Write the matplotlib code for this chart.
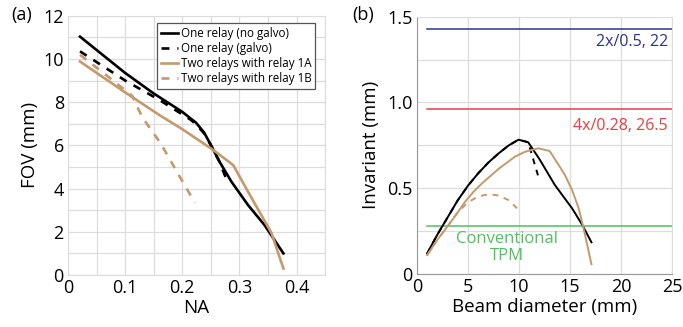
import matplotlib
matplotlib.use('Agg')
import matplotlib.pyplot as plt
from matplotlib.ticker import MultipleLocator

plt.rcParams['font.family'] = ['Open Sans', 'DejaVu Sans']

# panel (a): FOV vs NA
na_one = [0.021, 0.06, 0.1, 0.15, 0.2, 0.224, 0.238, 0.250, 0.265, 0.286, 0.315, 0.344, 0.377]
fov_one = [11.03, 10.2, 9.35, 8.4, 7.55, 7.05, 6.6, 6.02, 5.25, 4.32, 3.24, 2.31, 1.0]
na_one_galvo = [0.021, 0.1, 0.16, 0.215, 0.225, 0.24, 0.25, 0.265, 0.28]
fov_one_galvo = [10.35, 9.0, 8.1, 7.18, 6.95, 6.5, 6.0, 5.25, 4.24]
na_two_1a = [0.021, 0.1, 0.16, 0.2, 0.25, 0.262, 0.289, 0.315, 0.356, 0.377]
fov_two_1a = [9.88, 8.45, 7.4, 6.75, 5.86, 5.63, 5.09, 3.86, 1.95, 0.3]
na_two_1b = [0.021, 0.074, 0.112, 0.13, 0.162, 0.19, 0.222]
fov_two_1b = [10.19, 9.1, 8.3, 7.3, 6.1, 4.8, 3.35]

# panel (b): invariant vs beam diameter
d_one = [1.0, 2.0, 3.0, 4.0, 5.0, 6.0, 7.0, 8.0, 9.0, 9.95, 10.9, 12.0, 13.5, 15.2, 16.2, 17.1]
inv_one = [0.12, 0.23, 0.33, 0.43, 0.515, 0.587, 0.65, 0.703, 0.75, 0.783, 0.768, 0.67, 0.52, 0.383, 0.286, 0.185]
d_one_galvo = [1.0, 2.0, 3.0, 4.0, 5.0, 6.0, 7.0, 8.0, 9.0, 9.95, 10.9, 11.9]
inv_one_galvo = [0.12, 0.23, 0.33, 0.43, 0.515, 0.587, 0.65, 0.703, 0.75, 0.783, 0.768, 0.567]
d_two_1a = [1.0, 2.0, 3.1, 4.0, 4.7, 5.5, 6.4, 8.0, 9.6, 10.6, 11.9, 13.0, 14.0, 14.5, 15.2, 15.85, 16.4, 17.1]
inv_two_1a = [0.11, 0.2, 0.286, 0.36, 0.42, 0.477, 0.53, 0.613, 0.684, 0.713, 0.733, 0.717, 0.625, 0.577, 0.49, 0.383, 0.247, 0.057]
d_two_1b = [1.0, 2.0, 3.1, 4.0, 5.0, 6.0, 7.0, 8.0, 9.0, 9.8]
inv_two_1b = [0.11, 0.2, 0.286, 0.36, 0.418, 0.452, 0.465, 0.458, 0.43, 0.383]

ref_levels = [1.43, 0.96, 0.28]
ref_labels = ['2x/0.5, 22', '4x/0.28, 26.5', 'Conventional\nTPM']
ref_colors = ['#2e3192', '#f03c3c', '#4cc35a']

tan = '#c49a6c'
grid_c = '#dddddd'

fig = plt.figure(figsize=(6.83, 3.27), dpi=100)
ax1 = fig.add_axes([0.0996, 0.159, 0.3764, 0.793])
ax2 = fig.add_axes([0.6105, 0.162, 0.3735, 0.787])

ax1.plot(na_one, fov_one, color='black', lw=1.9, label='One relay (no galvo)')
ax1.plot(na_one_galvo, fov_one_galvo, color='black', lw=1.9, ls=(0, (3, 3)), label='One relay (galvo)')
ax1.plot(na_two_1a, fov_two_1a, color=tan, lw=1.9, label='Two relays with relay 1A')
ax1.plot(na_two_1b, fov_two_1b, color=tan, lw=1.9, ls=(0, (3, 3)), label='Two relays with relay 1B')

ax1.set_xlim(0, 0.45)
ax1.set_ylim(0, 12)
ax1.set_xticks([0, 0.1, 0.2, 0.3, 0.4])
ax1.set_xticklabels(['0', '0.1', '0.2', '0.3', '0.4'])
ax1.xaxis.set_minor_locator(MultipleLocator(0.05))
ax1.yaxis.set_major_locator(MultipleLocator(2))
ax1.yaxis.set_minor_locator(MultipleLocator(1))
ax1.grid(which='both', color=grid_c, lw=0.9)
ax1.set_axisbelow(True)
ax1.set_xlabel('NA', fontsize=13.5, labelpad=1)
ax1.set_ylabel('FOV (mm)', fontsize=13.5, labelpad=3)
leg = ax1.legend(loc='upper right', bbox_to_anchor=(0.985, 0.995), fontsize=8.4,
                 handlelength=1.45, handletextpad=0.2, borderpad=0.35, labelspacing=0.18,
                 fancybox=False, framealpha=1, edgecolor='#555555')
leg.get_frame().set_linewidth(0.9)

for lvl, lab, col in zip(ref_levels, ref_labels, ref_colors):
    ax2.plot([1, 25], [lvl, lvl], color=col, lw=1.1)
ax2.plot(d_one, inv_one, color='black', lw=1.4)
ax2.plot(d_one_galvo, inv_one_galvo, color='black', lw=1.4, ls=(0, (3, 3)))
ax2.plot(d_two_1a, inv_two_1a, color=tan, lw=1.4)
ax2.plot(d_two_1b, inv_two_1b, color=tan, lw=1.4, ls=(0, (3, 3)))

ax2.text(24.6, 1.35, ref_labels[0], color=ref_colors[0], fontsize=11.5, ha='right', va='center')
ax2.text(24.6, 0.865, ref_labels[1], color=ref_colors[1], fontsize=11.5, ha='right', va='center')
ax2.text(8.8, 0.155, ref_labels[2], color=ref_colors[2], fontsize=12, ha='center', va='center',
         linespacing=1.15)

ax2.set_xlim(0, 25)
ax2.set_ylim(0, 1.5)
ax2.set_xticks([0, 5, 10, 15, 20, 25])
ax2.set_yticks([0, 0.5, 1.0, 1.5])
ax2.set_yticklabels(['0', '0.5', '1.0', '1.5'])
ax2.yaxis.set_minor_locator(MultipleLocator(0.25))
ax2.grid(which='both', color=grid_c, lw=0.9)
ax2.set_axisbelow(True)
ax2.set_xlabel('Beam diameter (mm)', fontsize=13.5, labelpad=1)
ax2.set_ylabel('Invariant (mm)', fontsize=13.5, labelpad=5)

for ax in (ax1, ax2):
    ax.tick_params(which='both', length=0, labelsize=13, pad=3)
    for s in ax.spines.values():
        s.set_color(grid_c)
for s in ('left', 'bottom'):
    ax2.spines[s].set_color('#999999')

fig.text(0.017, 0.955, '(a)', fontsize=13, va='center')
fig.text(0.516, 0.955, '(b)', fontsize=13, va='center')

fig.savefig('out.png', dpi=100)
